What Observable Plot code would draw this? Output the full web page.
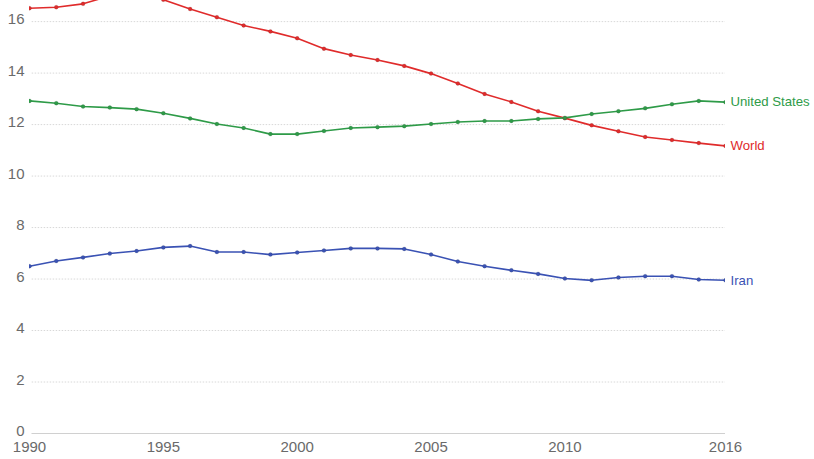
<!DOCTYPE html>
<html><head><meta charset="utf-8">
<script src="https://cdn.jsdelivr.net/npm/d3@7"></script>
<script src="https://cdn.jsdelivr.net/npm/@observablehq/plot@0.6"></script>
<style>
html,body{margin:0;padding:0;background:#fff;}
svg{display:block;font-family:"Liberation Sans",Arial,sans-serif;}
</style></head>
<body><div id="chart"></div>
<script>
const years = [1990,1991,1992,1993,1994,1995,1996,1997,1998,1999,2000,2001,2002,2003,2004,2005,2006,2007,2008,2009,2010,2011,2012,2013,2014,2015,2016];
const world = [16.52,16.56,16.69,17.0,17.1,16.85,16.49,16.17,15.85,15.62,15.35,14.95,14.7,14.51,14.28,13.98,13.6,13.19,12.88,12.52,12.25,11.97,11.74,11.52,11.4,11.28,11.17];
const unitedStates = [12.92,12.83,12.7,12.66,12.6,12.44,12.24,12.02,11.87,11.63,11.63,11.75,11.87,11.9,11.94,12.02,12.1,12.14,12.14,12.22,12.26,12.41,12.52,12.63,12.79,12.92,12.87];
const iran = [6.5,6.7,6.84,6.99,7.09,7.23,7.28,7.05,7.05,6.95,7.03,7.11,7.19,7.19,7.17,6.95,6.68,6.5,6.34,6.2,6.02,5.95,6.06,6.11,6.11,5.98,5.95];
const seriesNames = ["World","United States","Iran"];
const seriesColors = ["#e02b2b","#2e9b48","#3a52b4"];
const xTicks = [1990,1995,2000,2005,2010,2016];
const yTicks = [0,2,4,6,8,10,12,14,16];

const valuesBySeries = [world, unitedStates, iran];
const rows = [];
seriesNames.forEach((s,i)=>years.forEach((y,j)=>rows.push({series:s, year:y, value:valuesBySeries[i][j]})));
const lastRows = seriesNames.map((s,i)=>({series:s, year:years[years.length-1], value:valuesBySeries[i][years.length-1]}));

const chart = Plot.plot({
  width: 814, height: 459,
  marginTop: 0, marginBottom: 26, marginLeft: 29, marginRight: 89,
  style: {fontFamily: '"Liberation Sans", Arial, sans-serif', background: "#fff"},
  x: {domain: [1990, 2016], ticks: xTicks, tickFormat: d => String(d), label: null},
  y: {domain: [0, 16.82], ticks: yTicks, label: null},
  color: {domain: seriesNames, range: seriesColors},
  marks: [
    Plot.gridY(yTicks, {stroke: "#d8d8d8", strokeOpacity: 1, strokeDasharray: "1.5,1.5", x1: 1990.1, x2: 2016}),
    Plot.ruleY([0], {stroke: "#d0d0d0", x1: 1990.1, x2: 2016}),
    Plot.axisY(yTicks, {tickSize: 0, tickPadding: 0, textAnchor: "end", dx: -5, dy: -2, fontSize: 15, fill: "#6a6a6a", label: null}),
    Plot.axisX(xTicks, {tickSize: 0, tickPadding: 8, fontSize: 15, fill: "#6a6a6a", label: null, tickFormat: d => String(d)}),
    Plot.line(rows, {x: "year", y: "value", z: "series", stroke: "series", strokeWidth: 1.6, clip: true}),
    Plot.dot(rows, {x: "year", y: "value", fill: "series", r: 2, clip: true, stroke: "#333", strokeOpacity: 0.25, strokeWidth: 0.5}),
    Plot.text(lastRows, {x: "year", y: "value", text: "series", fill: "series", textAnchor: "start", dx: 5, fontSize: 13.2})
  ]
});
document.getElementById("chart").appendChild(chart);
</script></body></html>
